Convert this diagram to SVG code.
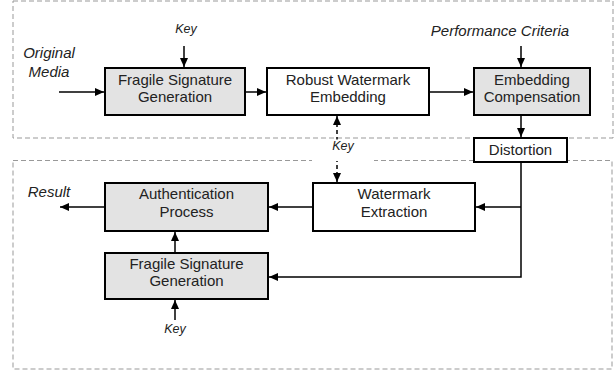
<svg xmlns="http://www.w3.org/2000/svg" width="616" height="375" viewBox="0 0 616 375">
<defs>
<marker id="ah" markerWidth="10" markerHeight="10" refX="9" refY="5" orient="auto" markerUnits="userSpaceOnUse">
<path d="M0,1 L9,5 L0,9 Z" fill="#000"/>
</marker>
<marker id="ahs" markerWidth="10" markerHeight="10" refX="9" refY="5" orient="auto-start-reverse" markerUnits="userSpaceOnUse">
<path d="M0,1 L9,5 L0,9 Z" fill="#000"/>
</marker>
<style>
.region{fill:none;stroke:#999;stroke-width:1;stroke-dasharray:5,3}
.box{stroke:#000;stroke-width:2}
.g{fill:#e3e3e3}
.w{fill:#fff}
.t{font-family:"Liberation Sans",Arial,sans-serif;font-size:15px;fill:#222;text-anchor:middle}
.it{font-family:"Liberation Sans",Arial,sans-serif;font-size:15px;font-style:italic;fill:#222;text-anchor:middle}
.k{font-family:"Liberation Sans",Arial,sans-serif;font-size:12.5px;font-style:italic;fill:#222;text-anchor:middle}
.c{fill:none;stroke:#000;stroke-width:1.5}
.cd{fill:none;stroke:#000;stroke-width:1.5;stroke-dasharray:4,3}
</style>
</defs>
<rect width="616" height="375" fill="#fff"/>
<g id="regions">
<rect class="region" x="13" y="1" width="600" height="137"/>
<rect class="region" x="13" y="160.5" width="599" height="208.5"/>
</g>
<g id="connectors">
<line class="c" x1="184" y1="46" x2="184" y2="67" marker-end="url(#ah)"/>
<line class="c" x1="59" y1="92" x2="104" y2="92" marker-end="url(#ah)"/>
<line class="c" x1="246" y1="92" x2="266" y2="92" marker-end="url(#ah)"/>
<line class="c" x1="430" y1="92" x2="473" y2="92" marker-end="url(#ah)"/>
<line class="c" x1="521" y1="46" x2="521" y2="67" marker-end="url(#ah)"/>
<line class="c" x1="521" y1="116" x2="521" y2="137" marker-end="url(#ah)"/>
<polyline class="c" points="521,163 521,277 269,277" marker-end="url(#ah)"/>
<line class="c" x1="521" y1="207" x2="476" y2="207" marker-end="url(#ah)"/>
<line class="c" x1="312" y1="207" x2="269" y2="207" marker-end="url(#ah)"/>
<line class="c" x1="104" y1="207" x2="60" y2="207" marker-end="url(#ah)"/>
<line class="c" x1="175" y1="252" x2="175" y2="232" marker-end="url(#ah)"/>
<line class="c" x1="175" y1="320" x2="175" y2="300" marker-end="url(#ah)"/>
<line class="cd" x1="337" y1="116" x2="337" y2="182" marker-start="url(#ahs)" marker-end="url(#ah)"/>
<rect x="312" y="139.5" width="62" height="21.5" fill="#fff"/>
<text class="k" x="343" y="150">Key</text>
</g>
<g id="labels">
<text class="k" x="186" y="33">Key</text>
<text class="it" x="49" y="58">Original</text>
<text class="it" x="49" y="77">Media</text>
<text class="it" x="500" y="36">Performance Criteria</text>
<text class="it" x="49" y="197">Result</text>
<text class="k" x="175" y="333">Key</text>
</g>
<g id="fsg-top">
<rect class="box g" x="105" y="68" width="140" height="47"/>
<text class="t" x="175" y="85">Fragile Signature</text>
<text class="t" x="175" y="102">Generation</text>
</g>
<g id="rwe">
<rect class="box w" x="267" y="68" width="162" height="47"/>
<text class="t" x="348" y="85">Robust Watermark</text>
<text class="t" x="348" y="102">Embedding</text>
</g>
<g id="ec">
<rect class="box g" x="474" y="68" width="116" height="47"/>
<text class="t" x="532" y="85">Embedding</text>
<text class="t" x="532" y="102">Compensation</text>
</g>
<g id="distortion">
<rect class="box w" x="474" y="138" width="93" height="24"/>
<text class="t" x="520.5" y="155">Distortion</text>
</g>
<g id="we">
<rect class="box w" x="313" y="183" width="162" height="48"/>
<text class="t" x="394" y="199">Watermark</text>
<text class="t" x="394" y="217">Extraction</text>
</g>
<g id="ap">
<rect class="box g" x="105" y="183" width="163" height="48"/>
<text class="t" x="186.5" y="199">Authentication</text>
<text class="t" x="186.5" y="217">Process</text>
</g>
<g id="fsg-bottom">
<rect class="box g" x="105" y="253" width="163" height="46"/>
<text class="t" x="186.5" y="269">Fragile Signature</text>
<text class="t" x="186.5" y="286">Generation</text>
</g>
</svg>
